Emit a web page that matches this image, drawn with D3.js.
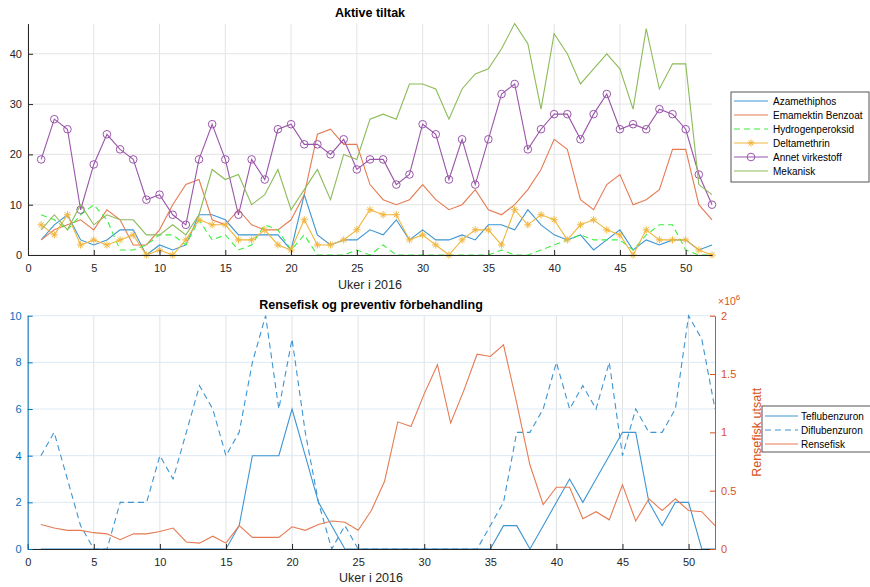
<!DOCTYPE html>
<html lang="no">
<head>
<meta charset="UTF-8">
<title>Aktive tiltak</title>
<script src="https://d3js.org/d3.v7.min.js"></script>
<style>
  body { margin: 0; background: #fff; }
  svg text { font-family: "Liberation Sans", Arial, Helvetica, sans-serif; }
</style>
</head>
<body>
<div id="chart"></div>
<script>
// uker 1..52
const weeks = d3.range(1, 53);

// Aktive tiltak
const azamethiphos = [3,6,8,3,2,3,5,5,0,2,1,2,8,8,7,4,4,4,4,1,12,4,2,3,3,5,4,7,3,5,3,3,4,3,6,6,5,9,6,4,3,4,1,3,5,1,3,2,3,3,1,2];
const emamektin    = [3,5,6,7,5,9,7,2,2,5,10,14,15,7,6,9,6,5,5,7,12,24,25,22,22,14,11,10,11,14,11,9,10,13,9,8,10,13,17,23,21,11,9,14,16,10,11,13,21,21,10,7];
const hydrogen     = [8,7,5,8,10,7,1,1,2,4,4,2,7,3,4,1,2,6,5,1,4,0,0,0,1,0,2,0,0,0,0,0,0,0,0,1,0,0,1,2,3,4,3,3,3,1,4,6,6,1,0,0];
const deltamethrin = [6,4,8,2,3,2,3,4,0,1,0,3,7,6,6,3,3,5,2,1,7,2,2,3,5,9,8,8,3,4,2,0,3,5,5,2,9,6,8,7,3,6,7,5,4,0,5,3,3,3,1,0];
const annet        = [19,27,25,9,18,24,21,19,11,12,8,6,19,26,19,8,19,15,25,26,22,22,20,23,17,19,19,14,16,26,24,15,23,14,23,32,34,21,25,28,28,23,28,32,25,26,25,29,28,25,16,10];
const mekanisk     = [5,8,5,10,6,8,7,7,4,4,6,4,8,17,15,16,10,12,17,9,13,17,11,20,19,27,28,27,34,34,33,27,33,36,37,41,46,42,29,44,40,34,37,40,37,29,45,33,38,38,14,12];

// Rensefisk og preventiv fôrbehandling
const teflubenzuron = [0,0,0,0,0,0,0,0,0,0,0,0,0,0,0,1,4,4,4,6,4,2,1,0,0,0,0,0,0,0,0,0,0,0,0,1,1,0,1,2,3,2,3,4,5,5,2,1,2,2,0,0];
const diflubenzuron = [4,5,3,1,0,0,2,2,2,4,3,5,7,6,4,5,8,10,6,9,5,2,0,1,0,0,0,0,0,0,0,0,0,0,1,2,5,5,6,8,6,7,6,8,4,6,5,5,6,10,9,6];
const rensefisk = [210000,180000,160000,160000,140000,130000,80000,130000,130000,150000,180000,60000,50000,110000,50000,200000,100000,100000,100000,190000,
  160000,210000,240000,230000,160000,330000,580000,1090000,1050000,1330000,1580000,1080000,1360000,1670000,1650000,1750000,1250000,720000,
  380000,530000,530000,260000,320000,250000,550000,240000,430000,330000,430000,330000,320000,200000];

const xTicks = [0,5,10,15,20,25,30,35,40,45,50];
const yTicksTop = [0,10,20,30,40];
const yTicksLeft = [0,2,4,6,8,10];
const yTicksRight = [0,500000,1000000,1500000,2000000];

const width = 870, height = 587;
const axisCol = '#262626';
const col = {
  blue: '#3d95d2', orange: '#e57b53', lime: '#3cee3c',
  yellow: '#f0b53c', purple: '#9a55aa', green: '#8cbb58'
};

const svg = d3.select('#chart').append('svg')
  .attr('width', width)
  .attr('height', height);

function styleAxis(g, color) {
  g.selectAll('path.domain').attr('stroke', color);
  g.selectAll('.tick line').attr('stroke', color);
  g.selectAll('.tick text').attr('fill', color).attr('font-size', 11)
    .style('font-family', '"Liberation Sans", Arial, sans-serif');
}

function asterisk(r) {
  const d = r * 0.707;
  return `M${-r},0H${r}M0,${-r}V${r}M${-d},${-d}L${d},${d}M${-d},${d}L${d},${-d}`;
}

// ---------- top panel ----------
const x1 = d3.scaleLinear().domain([0, 52]).range([28, 712]);
const y1 = d3.scaleLinear().domain([0, 46]).range([255, 23.6]);

const grid1 = svg.append('g');
grid1.selectAll('line.v').data(xTicks).join('line')
  .attr('x1', d => x1(d)).attr('x2', d => x1(d))
  .attr('y1', y1(0)).attr('y2', y1(46))
  .attr('stroke', '#e4e4e4');
grid1.selectAll('line.h').data(yTicksTop).join('line')
  .attr('x1', x1(0)).attr('x2', x1(52))
  .attr('y1', d => y1(d)).attr('y2', d => y1(d))
  .attr('stroke', '#e4e4e4');

const topSeries = [
  { name: 'Azamethiphos', values: azamethiphos, color: col.blue },
  { name: 'Emamektin Benzoat', values: emamektin, color: col.orange },
  { name: 'Hydrogenperoksid', values: hydrogen, color: col.lime, dash: '6,4' },
  { name: 'Deltamethrin', values: deltamethrin, color: col.yellow, marker: 'star' },
  { name: 'Annet virkestoff', values: annet, color: col.purple, marker: 'circle' },
  { name: 'Mekanisk', values: mekanisk, color: col.green }
];

const line1 = d3.line().x((d, i) => x1(weeks[i])).y(d => y1(d));

topSeries.forEach(s => {
  svg.append('path')
    .attr('d', line1(s.values))
    .attr('fill', 'none')
    .attr('stroke', s.color)
    .attr('stroke-width', 1.1)
    .attr('stroke-dasharray', s.dash || null);
  if (s.marker === 'circle') {
    svg.append('g').selectAll('circle').data(s.values).join('circle')
      .attr('cx', (d, i) => x1(weeks[i])).attr('cy', d => y1(d))
      .attr('r', 3.8).attr('fill', 'none').attr('stroke', s.color);
  } else if (s.marker === 'star') {
    svg.append('g').selectAll('path').data(s.values).join('path')
      .attr('transform', (d, i) => `translate(${x1(weeks[i])},${y1(d)})`)
      .attr('d', asterisk(3.6)).attr('stroke', s.color).attr('fill', 'none');
  }
});

svg.append('g').attr('transform', `translate(0,${y1(0)})`)
  .call(d3.axisBottom(x1).tickValues(xTicks).tickSizeInner(-5).tickSizeOuter(0).tickPadding(9))
  .call(g => styleAxis(g, axisCol));
svg.append('g').attr('transform', `translate(${x1(0)},0)`)
  .call(d3.axisLeft(y1).tickValues(yTicksTop).tickSizeInner(-5).tickSizeOuter(0).tickPadding(6))
  .call(g => styleAxis(g, axisCol));

svg.append('text').attr('x', 370).attr('y', 17).attr('text-anchor', 'middle')
  .attr('font-size', 12.5).attr('font-weight', 'bold').text('Aktive tiltak');
svg.append('text').attr('x', 370).attr('y', 289).attr('text-anchor', 'middle')
  .attr('font-size', 12.5).attr('fill', axisCol).text('Uker i 2016');

// legend top
const leg1 = svg.append('g').attr('transform', 'translate(731,92)');
leg1.append('rect').attr('width', 138).attr('height', 90)
  .attr('fill', '#fff').attr('stroke', '#555');
topSeries.forEach((s, i) => {
  const yy = 9 + i * 14;
  leg1.append('line').attr('x1', 3).attr('x2', 37).attr('y1', yy).attr('y2', yy)
    .attr('stroke', s.color).attr('stroke-width', 1.1).attr('stroke-dasharray', s.dash || null);
  if (s.marker === 'circle') {
    leg1.append('circle').attr('cx', 20).attr('cy', yy).attr('r', 3.8)
      .attr('fill', 'none').attr('stroke', s.color);
  } else if (s.marker === 'star') {
    leg1.append('path').attr('transform', `translate(20,${yy})`)
      .attr('d', asterisk(3.6)).attr('stroke', s.color);
  }
  leg1.append('text').attr('x', 42).attr('y', yy + 3.6).attr('font-size', 10).text(s.name);
});

// ---------- bottom panel ----------
const x2 = d3.scaleLinear().domain([0, 52]).range([27.7, 715]);
const yL = d3.scaleLinear().domain([0, 10]).range([549, 315.7]);
const yR = d3.scaleLinear().domain([0, 2000000]).range([549, 315.7]);

const grid2 = svg.append('g');
grid2.selectAll('line.v').data(xTicks).join('line')
  .attr('x1', d => x2(d)).attr('x2', d => x2(d))
  .attr('y1', yL(0)).attr('y2', yL(10))
  .attr('stroke', '#e2e2e2');
grid2.selectAll('line.h').data(yTicksLeft).join('line')
  .attr('x1', x2(0)).attr('x2', x2(52))
  .attr('y1', d => yL(d)).attr('y2', d => yL(d))
  .attr('stroke', '#dceaf6');

const lineL = d3.line().x((d, i) => x2(weeks[i])).y(d => yL(d));
const lineR = d3.line().x((d, i) => x2(weeks[i])).y(d => yR(d));

const bottomSeries = [
  { name: 'Teflubenzuron', values: teflubenzuron, color: col.blue, gen: lineL },
  { name: 'Diflubenzuron', values: diflubenzuron, color: col.blue, gen: lineL, dash: '6,4' },
  { name: 'Rensefisk', values: rensefisk, color: col.orange, gen: lineR }
];

bottomSeries.forEach(s => {
  svg.append('path')
    .attr('d', s.gen(s.values))
    .attr('fill', 'none')
    .attr('stroke', s.color)
    .attr('stroke-width', 1.1)
    .attr('stroke-dasharray', s.dash || null);
});

svg.append('g').attr('transform', `translate(0,${yL(0)})`)
  .call(d3.axisBottom(x2).tickValues(xTicks).tickSizeInner(-5).tickSizeOuter(0).tickPadding(9))
  .call(g => styleAxis(g, axisCol));
svg.append('g').attr('transform', `translate(${x2(0)},0)`)
  .call(d3.axisLeft(yL).tickValues(yTicksLeft).tickSizeInner(-5).tickSizeOuter(0).tickPadding(6))
  .call(g => styleAxis(g, '#0072bd'));
svg.append('g').attr('transform', `translate(${x2(52)},0)`)
  .call(d3.axisRight(yR).tickValues(yTicksRight).tickSizeInner(-5).tickSizeOuter(0).tickPadding(6)
    .tickFormat(d => d / 1e6))
  .call(g => styleAxis(g, '#d95319'));

// exponent label above the right axis
const exp = svg.append('text').attr('x', 718).attr('y', 305)
  .attr('font-size', 10.5).attr('fill', '#d95319');
exp.append('tspan').text('×10');
exp.append('tspan').attr('dy', -5).attr('font-size', 8).text('6');

svg.append('text').attr('transform', `translate(760.5,${(yR(0) + yR(2000000)) / 2}) rotate(-90)`)
  .attr('text-anchor', 'middle').attr('font-size', 12.5).attr('fill', '#d95319')
  .text('Rensefisk utsatt');

svg.append('text').attr('x', 371).attr('y', 309).attr('text-anchor', 'middle')
  .attr('font-size', 12.5).attr('font-weight', 'bold')
  .text('Rensefisk og preventiv fòrbehandling');
svg.append('text').attr('x', 371).attr('y', 582).attr('text-anchor', 'middle')
  .attr('font-size', 12.5).attr('fill', axisCol).text('Uker i 2016');

// legend bottom
const leg2 = svg.append('g').attr('transform', 'translate(762,406)');
leg2.append('rect').attr('width', 130).attr('height', 46)
  .attr('fill', '#fff').attr('stroke', '#555');
bottomSeries.forEach((s, i) => {
  const yy = 10 + i * 14;
  leg2.append('line').attr('x1', 3).attr('x2', 36).attr('y1', yy).attr('y2', yy)
    .attr('stroke', s.color).attr('stroke-width', 1.1).attr('stroke-dasharray', s.dash || null);
  leg2.append('text').attr('x', 39).attr('y', yy + 3.6).attr('font-size', 10).text(s.name);
});
</script>
</body>
</html>
